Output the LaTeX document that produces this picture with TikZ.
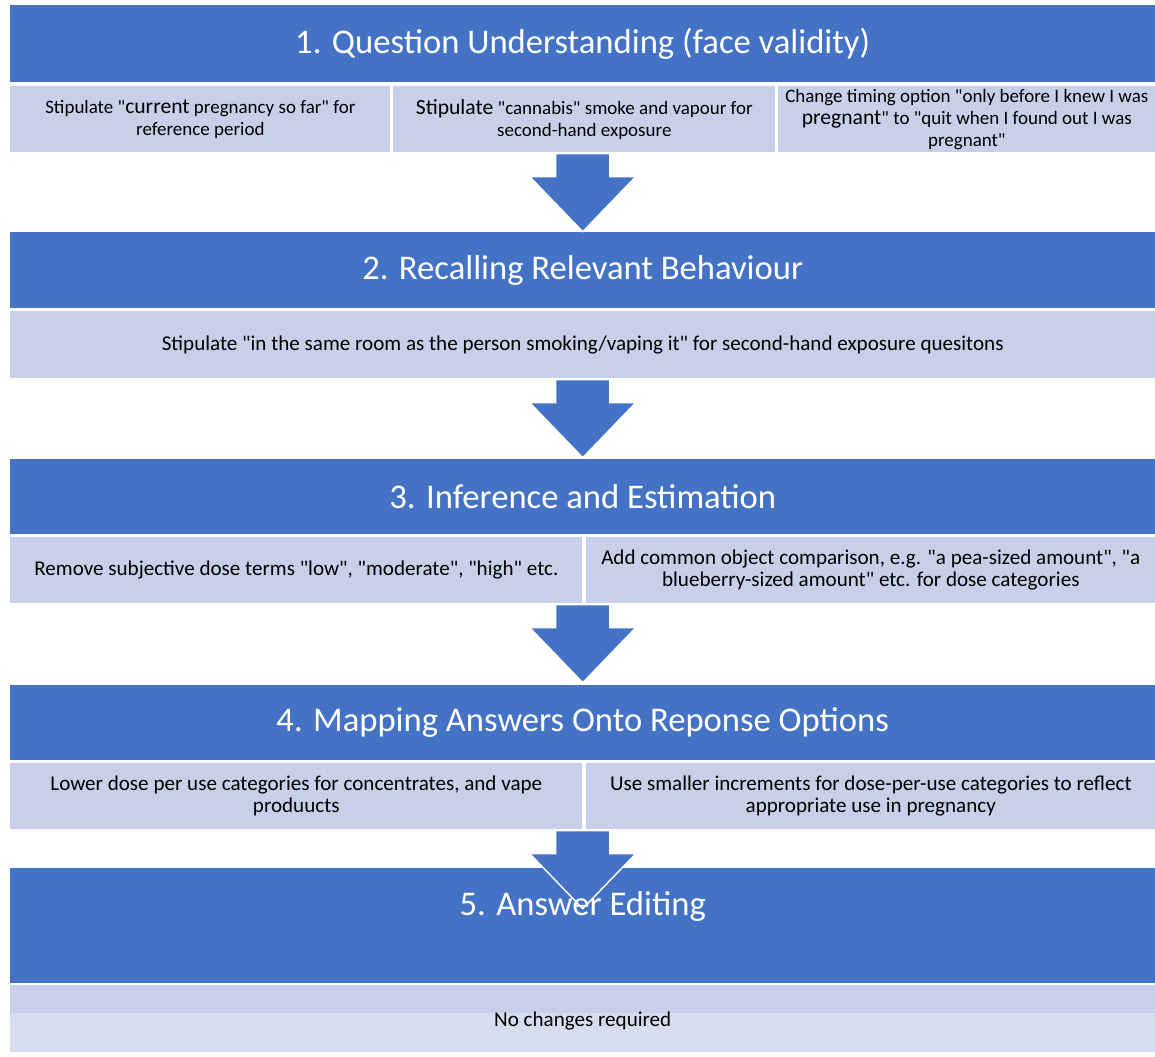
\documentclass[tikz,border=0pt]{standalone}
\usepackage{fontspec}
\setmainfont{Carlito}[Ligatures=TeXOff]
\usetikzlibrary{calc}
\definecolor{hdr-blue}{RGB}{68, 114, 196}
\definecolor{sub-fill}{RGB}{200, 208, 233}
\definecolor{sub-fill2}{RGB}{215, 221, 239}
\newcommand{\bigword}[1]{{\fontsize{12.3}{12.5}\selectfont #1}}

\begin{document}
\begin{tikzpicture}[x=0.02cm, y=-0.02cm,
    headbox/.style={fill=hdr-blue, text=white, anchor=north west, inner sep=0pt,
      minimum width=22.9cm, minimum height=1.54cm, font=\fontsize{19.7}{22}\selectfont},
    headtext/.style={text=white, inner sep=0pt, font=\fontsize{19.7}{22}\selectfont},
    subbox/.style={fill=sub-fill, anchor=north west, inner sep=1pt, align=center,
      minimum height=1.32cm, font=\fontsize{12}{12.5}\selectfont},
    smallsub/.style={subbox, font=\fontsize{10.8}{12.5}\selectfont},
    blockarrow/.style={fill=hdr-blue, draw=white, line width=0.8pt}]
          \useasboundingbox (0, 0) rectangle (1155, 1057);

          % 1
          \node[headbox] (head1) at (10, 5) {1. Question Understanding (face validity)};
          \node[smallsub, minimum width=7.6cm] (sub1a) at (10, 86)
            {Stipulate "\bigword{current} pregnancy so far" for\\reference period};
          \node[smallsub, minimum width=7.64cm] (sub1b) at (393, 86)
            {\bigword{Stipulate} "cannabis" smoke and vapour for\\second-hand exposure};
          \node[smallsub, minimum width=7.54cm] (sub1c) at (778, 86)
            {Change timing option "only before I knew I was\\\bigword{pregnant}" to "quit when I found out I was\\pregnant"};

          % 2
          \node[headbox, minimum height=1.52cm] (head2) at (10, 232) {2. Recalling Relevant Behaviour};
          \node[subbox, minimum width=22.9cm, minimum height=1.34cm] (sub2) at (10, 311)
            {Stipulate "in the same room as the person smoking/vaping it" for second-hand exposure quesitons};

          % 3
          \node[headbox, minimum height=1.5cm] (head3) at (10, 459) {3. Inference and Estimation};
          \node[subbox, minimum width=11.44cm] (sub3a) at (10, 537)
            {Remove subjective dose terms "low", "moderate", "high" etc.};
          \node[subbox, minimum width=11.38cm] (sub3b) at (586, 537)
            {Add common object comparison, e.g. "a pea-sized amount", "a\\blueberry-sized amount" etc. for dose categories};

          % 4
          \node[headbox, minimum height=1.5cm] (head4) at (10, 685) {4. Mapping Answers Onto Reponse Options};
          \node[subbox, minimum width=11.44cm] (sub4a) at (10, 763)
            {Lower dose per use categories for concentrates, and vape\\produucts};
          \node[subbox, minimum width=11.38cm] (sub4b) at (586, 763)
            {Use smaller increments for dose-per-use categories to reflect\\appropriate use in pregnancy};

          % 5
          \node[headbox, minimum height=2.3cm] (head5) at (10, 868) {};
          \node[subbox, fill=sub-fill2, minimum width=22.9cm, minimum height=1.34cm] (sub5) at (10, 985) {};
          \fill[sub-fill] (sub5.north west) rectangle ($(sub5.north east) + (0, 28)$);
          \node[font=\fontsize{12}{12.5}\selectfont] (note5) at ($(sub5.center) + (0, 2)$) {No changes required};

          % arrows between the stages
          \foreach \s/\e in {sub1b/head2, sub2/head3, sub3a/head4, sub4a/head5}
            \filldraw[blockarrow] (\s.south -| \e.north) ++(-27, 1) -- ++(54, 0) -- ++(0, 23)
              -- ++(26, 0) -- ++(-53, 55) -- ++(-53, -55) -- ++(26, 0) -- cycle;

          \node[headtext] (title5) at ($(head5.north) + (0, 38)$) {5. Answer Editing};

        \end{tikzpicture}
\end{document}
